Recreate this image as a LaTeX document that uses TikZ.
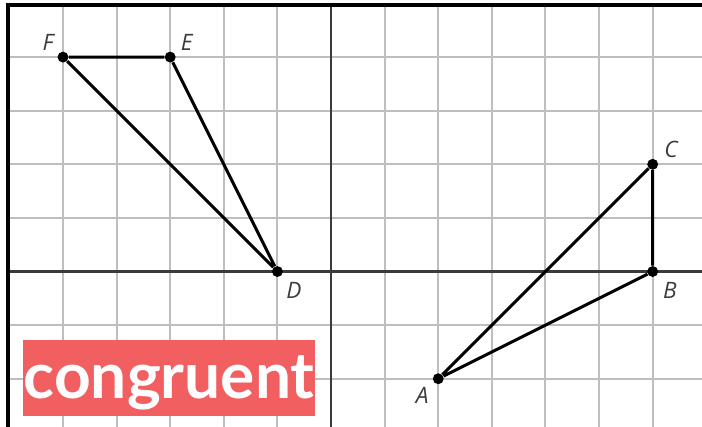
\documentclass[tikz,border=0pt]{standalone}
\usepackage{fontspec}
\usepackage{tikz}
\usetikzlibrary{calc}
\newfontfamily\labelfont{Open Sans}
\newfontfamily\tagfont{Lato}
\definecolor{gridgray}{HTML}{BEBEBE}
\definecolor{axisgray}{HTML}{3A3A3A}
\definecolor{labelgray}{HTML}{3C3C3C}
\definecolor{tagred}{HTML}{F25F61}
\tikzset{
    gridline/.style={gridgray, line width=1.1pt},
    axisline/.style={axisgray, line width=1.3pt},
    side/.style={black, line width=1.6pt},
    vertex/.style={circle, fill=black, inner sep=0pt, minimum size=5.8pt},
    lbl/.style={labelgray, inner sep=0pt, font=\labelfont\itshape\fontsize{12}{12}\selectfont},
    tagbox/.style={fill=tagred, text=white, inner sep=0pt, minimum width=5.45cm, minimum height=1.42cm,
        text height=0.766cm, text depth=0pt, font=\tagfont\bfseries\fontsize{34}{34}\selectfont}
}

\begin{document}
\begin{tikzpicture}
    \useasboundingbox (-6.175,-2.9) rectangle (6.92,5.065);
    \fill[white] (-6.175,-2.9) rectangle (6.92,5.065);

    % Grid
    \foreach \x in {-5,...,6} \draw[gridline] (\x,-3) -- (\x,5);
    \foreach \y in {-2,...,4} \draw[gridline] (-6,\y) -- (7,\y);

    % Axes
    \draw[axisline] (-6,0) -- (7,0);
    \draw[axisline] (0,-3) -- (0,5);

    % Frame
    \draw[black, line width=2pt] (-6.03,-3) -- (-6.03,4.97) -- (7,4.97);

    % Triangle DEF
    \node[vertex] (F) at (-5,4) {};
    \node[vertex] (E) at (-3,4) {};
    \node[vertex] (D) at (-1,0) {};
    \draw[side] (F) -- (E) -- (D) -- (F);

    % Triangle ABC
    \node[vertex] (A) at (2,-2) {};
    \node[vertex] (B) at (6,0) {};
    \node[vertex] (C) at (6,2) {};
    \draw[side] (A) -- (B) -- (C) -- (A);

    % Labels
    \node[lbl] (lF) at ($(F)+(-0.28,0.28)$) {F};
    \node[lbl] (lE) at ($(E)+(0.31,0.27)$) {E};
    \node[lbl] (lD) at ($(D)+(0.31,-0.35)$) {D};
    \node[lbl] (lC) at ($(C)+(0.34,0.27)$) {C};
    \node[lbl] (lB) at ($(B)+(0.32,-0.35)$) {B};
    \node[lbl] (lA) at ($(A)+(-0.3,-0.32)$) {A};

    % Tag
    \node[tagbox] (tag) at (-3.02,-1.98) {congruent};
\end{tikzpicture}
\end{document}
